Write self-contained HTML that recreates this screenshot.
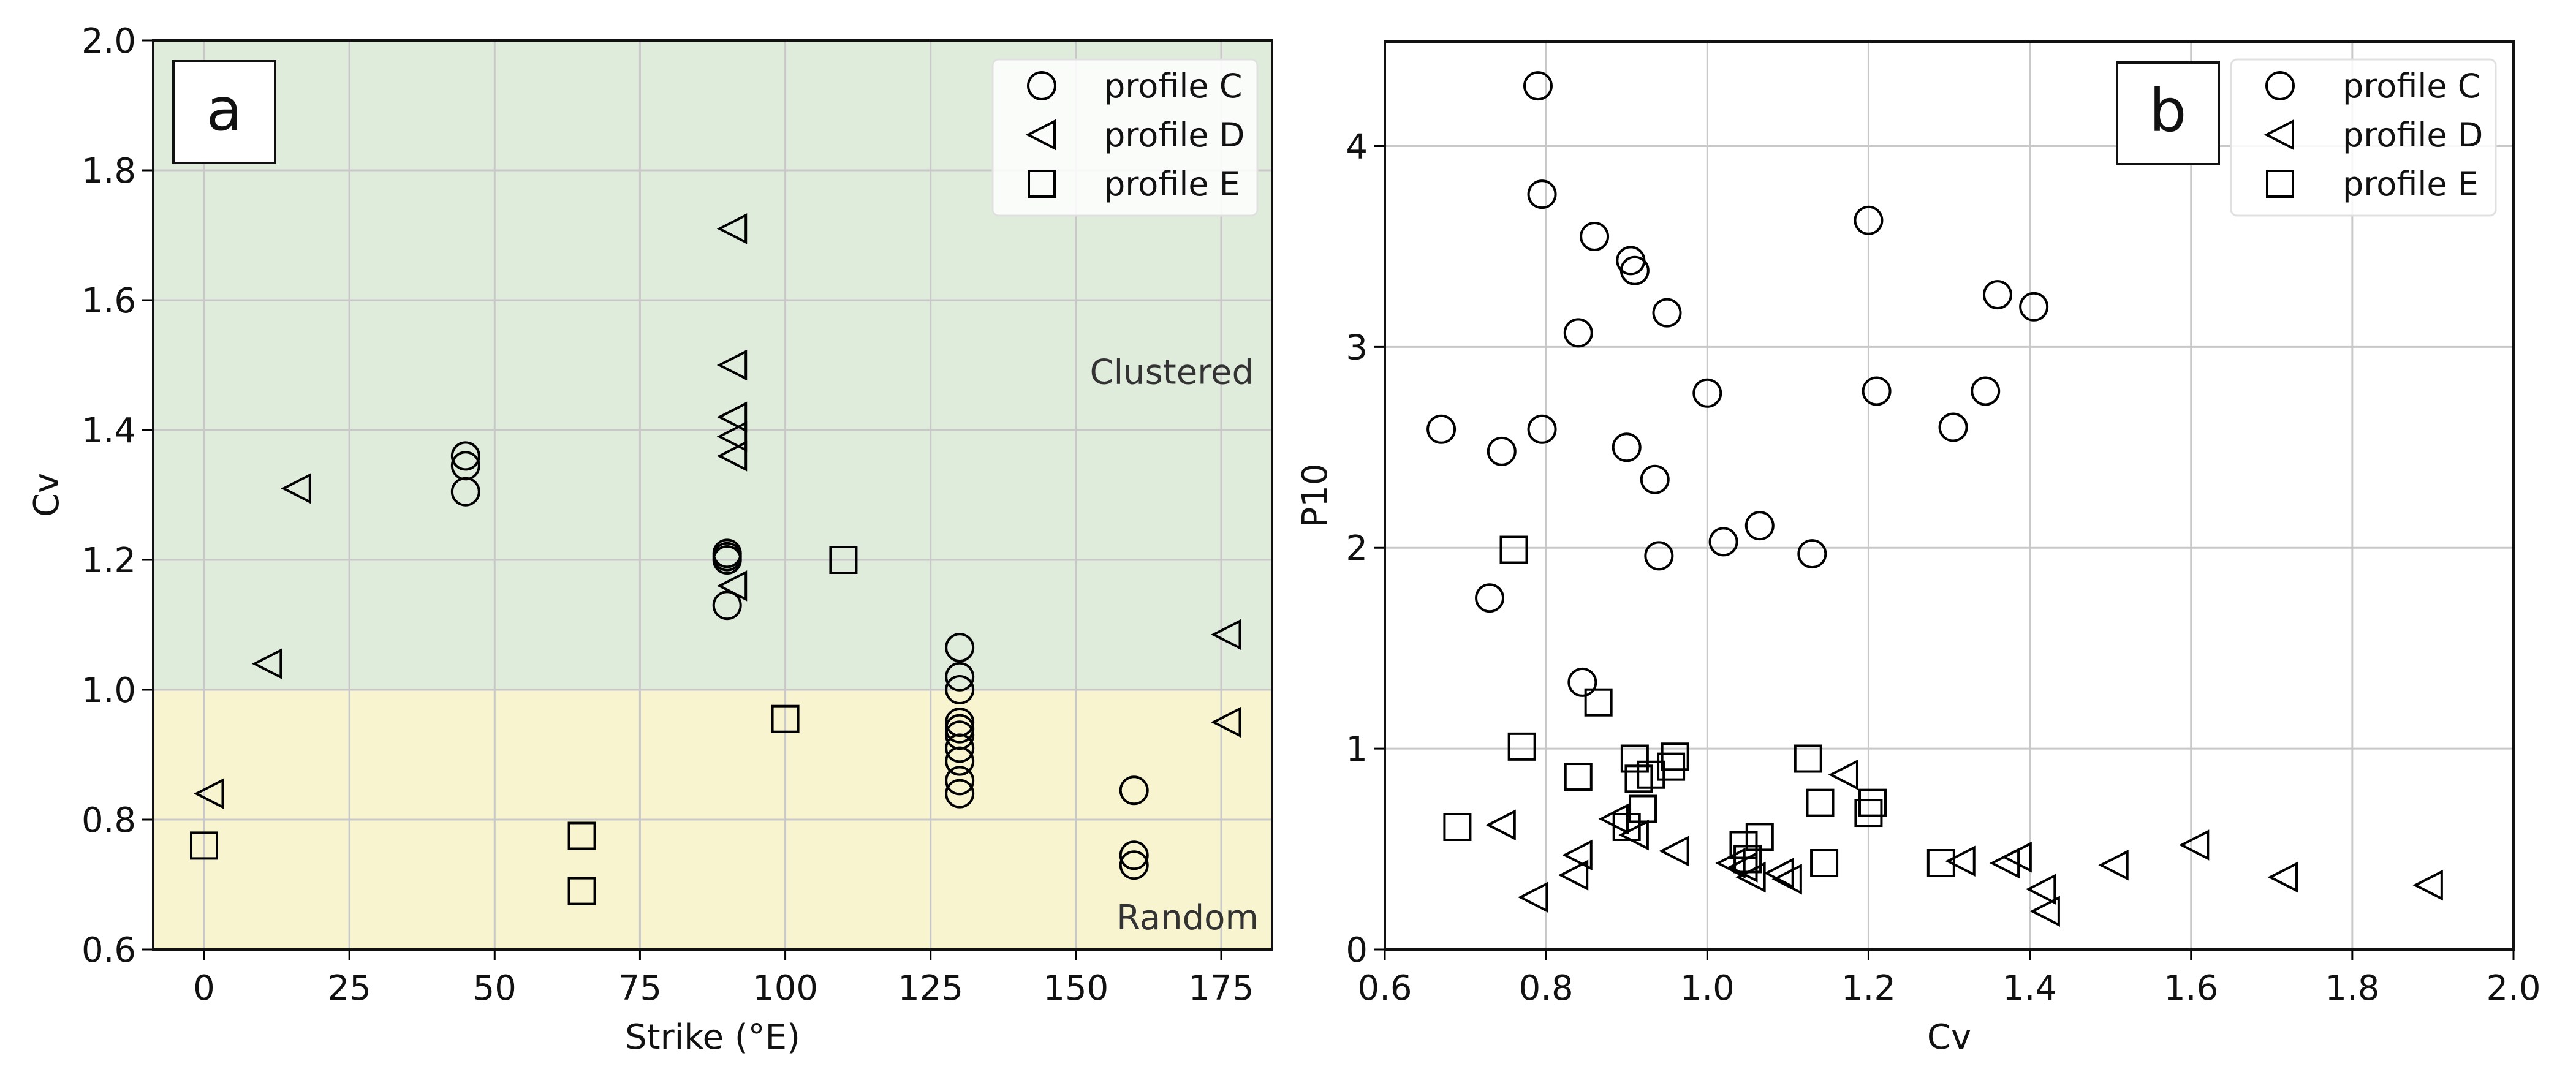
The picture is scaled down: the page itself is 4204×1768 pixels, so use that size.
<!DOCTYPE html>
<html><head><meta charset="utf-8"><style>
body{margin:0;background:#fff}
svg{display:block;font-family:"DejaVu Sans","Liberation Sans",sans-serif}
</style></head><body>
<svg id="chart" width="4204" height="1768" viewBox="0 0 4204 1768" xmlns="http://www.w3.org/2000/svg"></svg>
<script>
// Panel a data
const aCx=[45,45,45,90,90,90,90,130,130,130,130,130,130,130,130,130,130,160,160,160];
const aCy=[1.36,1.345,1.305,1.21,1.2,1.205,1.13,1.065,1.02,1.0,0.95,0.94,0.93,0.91,0.89,0.86,0.84,0.845,0.745,0.73];
const aDx=[16,11,1,91,91,91,91,91,91,176,176];
const aDy=[1.31,1.04,0.84,1.71,1.5,1.42,1.39,1.36,1.16,1.085,0.95];
const aEx=[0,65,65,100,110];
const aEy=[0.76,0.775,0.69,0.955,1.2];
const aXTicks=[0,25,50,75,100,125,150,175];
const aYTicks=[0.6,0.8,1.0,1.2,1.4,1.6,1.8,2.0];
// Panel b data
const bCx=[0.79,0.795,0.86,0.905,0.91,0.95,0.84,1.0,0.67,0.745,0.795,0.9,0.935,0.94,1.02,1.065,1.13,0.73,1.2,1.21,1.36,1.405,1.345,1.305,0.845];
const bCy=[4.3,3.76,3.55,3.43,3.38,3.17,3.07,2.77,2.59,2.48,2.59,2.5,2.34,1.96,2.03,2.11,1.97,1.75,3.63,2.78,3.26,3.2,2.78,2.6,1.33];
const bDx=[0.745,0.885,0.91,0.84,0.835,0.785,0.96,1.03,1.045,1.055,1.09,1.1,1.17,1.315,1.37,1.385,1.415,1.42,1.505,1.605,1.715,1.895];
const bDy=[0.62,0.65,0.57,0.47,0.37,0.26,0.49,0.43,0.41,0.36,0.38,0.35,0.87,0.44,0.43,0.46,0.3,0.19,0.42,0.52,0.36,0.32];
const bEx=[0.76,0.865,0.77,0.84,0.91,0.96,0.915,0.93,0.955,0.92,0.9,0.69,1.125,1.14,1.205,1.2,1.065,1.045,1.145,1.29,1.05];
const bEy=[1.99,1.23,1.01,0.86,0.95,0.96,0.85,0.87,0.91,0.7,0.61,0.61,0.95,0.73,0.73,0.68,0.56,0.52,0.43,0.43,0.45];
const bXTicks=[0.6,0.8,1.0,1.2,1.4,1.6,1.8,2.0];
const bYTicks=[0,1,2,3,4];

const svg=document.getElementById('chart');
const NS='http://www.w3.org/2000/svg';
function mk(tag,attrs,parent){const e=document.createElementNS(NS,tag);for(const k in attrs)e.setAttribute(k,attrs[k]);(parent||svg).appendChild(e);return e;}
function txt(s,attrs){const e=mk('text',attrs);e.textContent=s;return e;}

function marker(kind,cx,cy,g){
  let e;
  if(kind==='C'){e=mk('circle',{cx:cx,cy:cy,r:22,fill:'none',stroke:'#000','stroke-width':4},g);}
  else if(kind==='D'){e=mk('polygon',{points:(cx-22)+','+cy+' '+(cx+21)+','+(cy-22)+' '+(cx+21)+','+(cy+22),fill:'none',stroke:'#000','stroke-width':4},g);}
  else {e=mk('rect',{x:cx-21,y:cy-21,width:42,height:42,fill:'none',stroke:'#000','stroke-width':4},g);}
  return e;
}

function panel(o){
  const L=o.L,R=o.R,T=o.T,B=o.B;
  const sx=v=>L+(v-o.x0)/(o.x1-o.x0)*(R-L);
  const sy=v=>B-(v-o.y0)/(o.y1-o.y0)*(B-T);
  const g=mk('g',{});
  
  
  if(o.bands){
    const r1=mk('rect',{x:L,y:T,width:R-L,height:sy(1.0)-T,fill:'#dfecdc'},g);
    
    const r2=mk('rect',{x:L,y:sy(1.0),width:R-L,height:B-sy(1.0),fill:'#f7f4cf'},g);
    
  }
  o.xt.forEach(v=>{const x=sx(v);
    const l=mk('line',{x1:x,x2:x,y1:T,y2:B,stroke:'#c8c8c8','stroke-width':3},g);
    
    mk('line',{x1:x,x2:x,y1:B,y2:B+18,stroke:'#000','stroke-width':3},g);
    const t=txt(o.xf(v),{x:x,y:B+82,'font-size':56,'text-anchor':'middle',fill:'#111'});
    
  });
  o.yt.forEach(v=>{const y=sy(v);
    const l=mk('line',{x1:L,x2:R,y1:y,y2:y,stroke:'#c8c8c8','stroke-width':3},g);
    
    mk('line',{x1:L-18,x2:L,y1:y,y2:y,stroke:'#000','stroke-width':3},g);
    const t=txt(o.yf(v),{x:L-28,y:y+20,'font-size':56,'text-anchor':'end',fill:'#111'});
    
  });
  const fr=mk('rect',{x:L,y:T,width:R-L,height:B-T,fill:'none',stroke:'#111','stroke-width':4},g);
  
  if(o.bands){
    const c=txt('Clustered',{x:R-30,y:sy(1.49)+20,'font-size':56,'text-anchor':'end',fill:'#333'});
    
    const r=txt('Random',{x:R-22,y:sy(0.65)+20,'font-size':56,'text-anchor':'end',fill:'#333'});
    
  }
  o.series.forEach(s=>{
    const sg=mk('g',{},g);
    
    
    s.x.forEach((v,i)=>{const m=marker(s.k,sx(v),sy(s.y[i]),sg);
      
      });
  });
  const lb=mk('rect',{x:o.lbx,y:o.lby,width:166,height:166,fill:'#fff',stroke:'#111','stroke-width':4},g);
  
  const lt=txt(o.letter,{x:o.lbx+83,y:o.lby+112,'font-size':96,'text-anchor':'middle',fill:'#111'});
  
  const lg=mk('g',{},g);
  
  mk('rect',{x:o.lgx,y:97,width:432,height:255,rx:10,fill:'#fff','fill-opacity':0.85,stroke:'#e0e0e0','stroke-width':3},lg);
  [['C','profile C'],['D','profile D'],['E','profile E']].forEach((p,i)=>{
    const y=140+i*80;
    const m=marker(p[0],o.lgx+80,y,lg);
    
    const t=txt(p[1],{x:o.lgx+182,y:y+19,'font-size':54,fill:'#111'});
    
  });
  const xl=txt(o.xlabel,{x:(L+R)/2,y:1712,'font-size':56,'text-anchor':'middle',fill:'#111'});
  
  const yx=o.ylx, yy=(T+B)/2;
  const yl=txt(o.ylabel,{x:yx,y:yy,'font-size':56,'text-anchor':'middle',fill:'#111',transform:'rotate(-90 '+yx+' '+yy+')'});
  
}

panel({name:'panel-a',L:250,R:2076,T:66,B:1550,x0:-8.75,x1:183.75,y0:0.6,y1:2.0,bands:true,
  xt:aXTicks,yt:aYTicks,xf:v=>String(v),yf:v=>v.toFixed(1),
  series:[{k:'C',x:aCx,y:aCy},{k:'D',x:aDx,y:aDy},{k:'E',x:aEx,y:aEy}],
  lbx:283,lby:100,letter:'a',lgx:1620,xlabel:'Strike (°E)',ylabel:'Cv',ylx:95});
panel({name:'panel-b',L:2260,R:4102,T:68,B:1550,x0:0.6,x1:2.0,y0:0,y1:4.52,bands:false,
  xt:bXTicks,yt:bYTicks,xf:v=>v.toFixed(1),yf:v=>String(v),
  series:[{k:'C',x:bCx,y:bCy},{k:'D',x:bDx,y:bDy},{k:'E',x:bEx,y:bEy}],
  lbx:3455,lby:102,letter:'b',lgx:3641,xlabel:'Cv',ylabel:'P10',ylx:2165});
</script>
</body></html>
